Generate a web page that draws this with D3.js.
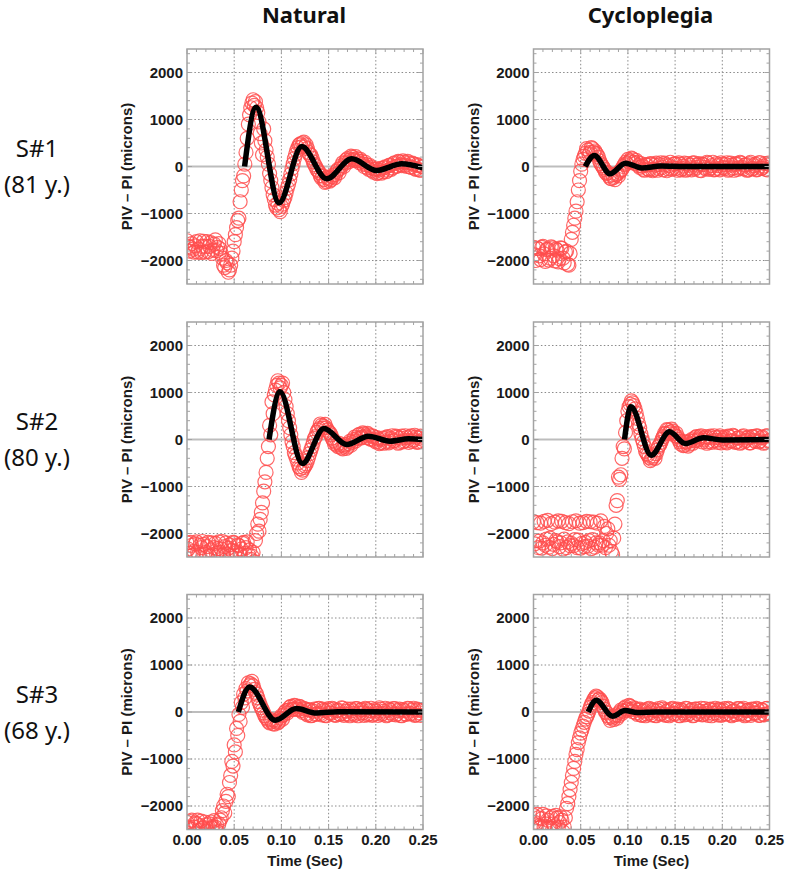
<!DOCTYPE html>
<html>
<head>
<meta charset="utf-8">
<style>
  body { margin: 0; background: #fff; }
  svg { display: block; }
  .tick-label { font-family: 'Liberation Sans', Arial, sans-serif; font-weight: bold; font-size: 15px; fill: #1a1a1a; }
  .axis-title { font-family: 'Liberation Sans', Arial, sans-serif; font-weight: bold; font-size: 15px; fill: #1a1a1a; }
  .col-title { font-family: 'Noto Sans', sans-serif; font-weight: bold; font-size: 22px; fill: #111; }
  .row-label { font-family: 'Noto Sans', sans-serif; font-size: 24px; fill: #111; }
</style>
</head>
<body>
<div id="chart"></div>
<script src="https://cdn.jsdelivr.net/npm/d3@7"></script>
<script>
  // samples are 1.25 ms apart, first one at t = 0
  const sampleStep = 0.00125

  const columnTitles = ['Natural', 'Cycloplegia']
  const rowLabels = [['S#1', '(81 y.)'], ['S#2', '(80 y.)'], ['S#3', '(68 y.)']]

  const xTicks = [0, 0.05, 0.10, 0.15, 0.20, 0.25]
  const xTickLabels = ['0.00', '0.05', '0.10', '0.15', '0.20', '0.25']
  const yTicks = [2000, 1000, 0, -1000, -2000]
  const yTickLabels = ['2000', '1000', '0', '\u22121000', '\u22122000']

  // measured PIV - PI (microns), one value per sample
  const s1Natural = [
    -1580, -1700, -1800, -1720, -1640, -1760, -1820, -1690, -1600, -1820, -1760, -1580, -1830, -1700, -1590, -1820,
    -1700, -1600, -1810, -1700, -1620, -1850, -1780, -1650, -1560, -1790, -1720, -1640, -1750, -1850, -1950, -2100,
    -2150, -2000, -2050, -2250, -2200, -2100, -1950, -1800, -1600, -1450, -1300, -1150, -1100, -750, -500, -300,
    -200, 50, 300, 600, 900, 1100, 1250, 1350, 1420, 1300, 1380, 1250, 1150, 950, 700, 500, 250, 800,
    550, 350, 200, 50, -150, -300, -450, -600, -700, -820, -880, -780, -920, -960, -850, -800, -720, -660,
    -560, -460, -380, -280, -160, -40, 60, 170, 260, 340, 400, 460, 480, 420, 500, 520, 420, 460,
    380, 300, 250, 240, 180, 100, 40, 0, -60, -90, -130, -200, -250, -200, -280, -340, -320, -230,
    -260, -310, -280, -220, -180, -240, -170, -100, -60, -130, -40, 20, 80, 0, 70, 140, 170, 100,
    140, 220, 200, 150, 130, 210, 170, 120, 80, 150, 110, 50, 0, 90, 40, -30, -60, 20, -20, -90,
    -120, -60, -50, -150, -130, -70, -40, -140, -110, -30, -10, -110, -80, 20, 30, -60, -30, 60, 80, 0,
    10, 110, 100, 40, 20, 120, 90, 30, 0, 110, 80, -10, -20, 70, 50, -40, -60, 40, 20, -70, -80, 0, -10
  ]
  const s1Cyclo = [
    -1720, -1880, -2000, -1740, -1750, -1900, -1980, -1720, -1700, -1860, -2020, -1770, -1760, -1990, -1950, -1710,
    -1730, -1900, -2010, -1760, -1780, -2030, -1960, -1730, -1740, -1950, -2050, -1820, -1800, -2080, -2100, -1850,
    -1550, -1400, -1250, -1100, -950, -750, -500, -300, -100, 50, 150, 220, 280, 380, 350, 260,
    300, 400, 380, 300, 330, 280, 250, 200, 120, 60, 20, -20, -60, -120, -150, -130, -200, -250,
    -260, -180, -230, -280, -180, -150, -200, -120, -80, -60, 0, 40, 90, 60, 150, 100, 120, 180,
    160, 90, 60, 130, 90, 20, -20, 60, 10, -60, -80, 40, 30, -50, -70, 60, 50, -90,
    -60, 30, 70, -80, -40, 40, 80, -20, -70, 70, 40, -90, -50, 20, 90, -60, -30, 50, 60, -40,
    -80, 80, 50, -70, -40, 10, 70, -80, -60, 60, 30, -30, -70, 70, 80, -50, -20, 30, 60, -80,
    -90, 50, 40, -20, -50, 90, 70, -60, -30, 20, 90, -70, -60, 60, 20, -40, -70, 80, 50, -20,
    -40, 40, 80, -80, -60, 70, 30, -30, -80, 50, 60, -60, -30, 90, 70, -20, -50, 30, 40, -80,
    -70, 60, 90, -50, -40, 20, 50, -70, -60, 80, 80, -40, -30, 10, 60, -60, -70, 70, 40
  ]
  const s2Natural = [
    -2200, -2330, -2420, -2190, -2250, -2460, -2380, -2220, -2180, -2400, -2450, -2250, -2300, -2170, -2230, -2440,
    -2400, -2280, -2190, -2480, -2350, -2200, -2460, -2300, -2210, -2420, -2320, -2180, -2400, -2330, -2170, -2450,
    -2280, -2200, -2440, -2310, -2240, -2470, -2360, -2190, -2200, -2380, -2410, -2240, -2260, -2450, -2330, -2210,
    -2190, -2420, -2300, -2180, -2450, -2350, -2550, -2480, -2400, -2600, -2150, -2000, -1800, -1950, -1700, -1550,
    -1350, -1100, -900, -700, -400, -150, 300, 100, 800, 550, 950, 1050, 1150, 1250, 1200, 1100,
    1150, 1200, 1000, 850, 700, 550, 400, 250, 100, -50, -150, -280, -350, -420, -500, -580,
    -620, -700, -650, -600, -560, -520, -450, -380, -300, -220, -150, -60, 20, 60, 150, 200,
    230, 330, 300, 240, 280, 320, 250, 200, 160, 140, 100, 30, -20, -90, -60, -120, -150, -80,
    -120, -180, -200, -140, -110, -190, -160, -90, -40, -120, -60, 0, 50, -30, 20, 90, 110, 30,
    50, 140, 120, 70, 40, 130, 100, 20, 0, 80, 60, -20, -50, 40, 10, -90, -70, 0, 30, -80,
    -50, 40, 60, -70, -40, 20, 80, -30, -20, 70, 50, -80, -60, 30, 70, -50, -30, 80, 40, -20,
    -60, 60, 80, -40, -10, 90, 50, -60, -50, 30, 70, -40, 0
  ]
  const s2Cyclo = [
    -1750, -2220, -2150, -1770, -2300, -2160, -1780, -2310, -2200, -1740, -2250, -2120, -1720, -2290, -2100, -1790,
    -2320, -2230, -1760, -2150, -2180, -1730, -2280, -2200, -1740, -2330, -2120, -1770, -2300, -2180, -1790, -2260,
    -2210, -1750, -2260, -2130, -1730, -2300, -2140, -1780, -2310, -2210, -1770, -2280, -2190, -1740, -2270, -2150,
    -1750, -2320, -2130, -1760, -2290, -2200, -1780, -2250, -2200, -1730, -2250, -2150, -1850, -2300, -2000, -1900,
    -2250, -2150, -2380, -2450, -2100, -1800, -1400, -1300, -800, -850, -750, -400, -150, -200, 150, 400,
    600, 700, 750, 820, 780, 720, 650, 560, 450, 330, 250, 120, 20, -60, -150, -250,
    -300, -330, -380, -450, -420, -380, -350, -400, -300, -220, -150, -110, -60, 10, 60, 130,
    120, 210, 200, 140, 160, 220, 180, 120, 80, 130, 60, 0, -50, -100, -40, -130, -120, -60,
    -50, -140, -100, -30, 0, -80, -30, 40, 60, -20, 10, 60, 80, -50, -10, 30, 60, -80,
    -50, 40, 70, -60, -30, 80, 40, -20, -60, 50, 80, -70, -20, 20, 50, -50, -70, 70, 60, -30,
    -30, 90, 70, -60, -50, 30, 40, -80, -60, 60, 80, -40, -20, 30, 50, -70, -70, 60, 60, -20,
    -40, 80, 70, -50, -30, 40, 50, -80, -60, 70, 80, -30, -20
  ]
  const s3Natural = [
    -2350, -2450, -2480, -2330, -2300, -2500, -2450, -2360, -2380, -2300, -2520, -2420, -2320, -2480, -2460, -2340,
    -2400, -2530, -2500, -2380, -2340, -2470, -2440, -2310, -2450, -2400, -2550, -2380, -2300, -2250, -2100, -2000,
    -2150, -1900, -1750, -1800, -1500, -1350, -1050, -1150, -700, -850, -350, -500, -50, -200, 200, 100,
    380, 300, 500, 450, 620, 560, 600, 650, 560, 480, 420, 380, 300, 220, 150, 90,
    40, -20, -80, -120, -150, -200, -230, -160, -200, -250, -260, -200, -170, -230, -200, -130,
    -80, -150, -60, 0, 30, -20, 40, 100, 120, 50, 60, 140, 130, 70, 50, 120,
    110, 30, -10, 80, 60, -30, -60, 50, 40, -80, -70, 20, 60, -50, -40, 70, 80, -30,
    -60, 60, 30, -70, -80, 40, 70, -20, -30, 80, 60, -60, -70, 30, 40, -40, -50, 90, 80, -70,
    -40, 20, 60, -50, -80, 60, 30, -30, -60, 70, 70, -80, -30, 40, 50, -20, -70, 80, 60, -60,
    -40, 30, 80, -70, -50, 50, 20, -30, -70, 90, 60, -50, -30, 20, 80, -80, -60, 60, 40, -20,
    -50, 70, 70, -60, -40, 30, 60, -70, -80, 50, 30, -40, -50, 80, 70, -30, -40, 40, 80, -70,
    -60, 60, 40, -20, -70, 30, 50
  ]
  const s3Cyclo = [
    -2200, -2350, -2400, -2180, -2250, -2420, -2450, -2270, -2180, -2440, -2380, -2210, -2300, -2470, -2460, -2250,
    -2220, -2380, -2420, -2200, -2260, -2450, -2350, -2230, -2300, -2550, -2450, -2250, -2050, -1950, -1800, -1650,
    -1500, -1350, -1200, -1050, -900, -800, -650, -550, -450, -380, -300, -220, -150, -100, -50, 20,
    100, 160, 200, 260, 300, 340, 320, 260, 280, 240, 200, 120, 60, 0, -20, -80,
    -120, -180, -100, -130, -160, -90, -60, -130, -80, -10, 40, -30, 20, 80, 110, 40,
    60, 140, 120, 50, 10, 90, 70, -20, -50, 40, 60, -60, -70, 20, 40, -80, -40, 60,
    80, -20, -60, 50, 30, -70, -80, 30, 70, -40, -30, 90, 60, -50, -70, 20, 40, -80,
    -50, 60, 80, -30, -40, 40, 60, -70, -80, 50, 30, -20, -60, 80, 70, -50, -30, 30,
    50, -80, -70, 60, 60, -40, -40, 20, 80, -60, -50, 70, 20, -30, -70, 50, 60, -80,
    -30, 40, 80, -20, -60, 60, 40, -70, -50, 30, 70, -40, -40, 80, 60, -60, -80, 20,
    30, -50, -50, 70, 70, -30, -40, 50, 80, -80, -60, 30, 40, -40, -70, 60, 50, -20,
    -30, 80, 60, -70, -70, 40, 40, -50, -60, 70, 80, -40, -20
  ]

  // fitted curves, [time (s), PIV - PI (microns)]
  const s1NaturalFit = [[0.061, 0], [0.0731, 1262], [0.0975, -773], [0.1215, 425], [0.148, -262],
    [0.1745, 163], [0.201, -85], [0.2274, 57], [0.25, -30]]
  const s1CycloFit = [[0.0548, 0], [0.0645, 234], [0.0812, -156], [0.0974, 70], [0.1148, -30],
    [0.135, 10], [0.16, 0], [0.25, 0]]
  const s2NaturalFit = [[0.0869, 0], [0.0985, 1017], [0.1222, -513], [0.1451, 235], [0.1692, -107],
    [0.1921, 70], [0.215, -36], [0.235, 15], [0.25, 0]]
  const s2CycloFit = [[0.0964, 0], [0.1032, 697], [0.1247, -335], [0.144, 164], [0.1607, -86],
    [0.18, 35], [0.2, -10], [0.25, 0]]
  const s3NaturalFit = [[0.0544, 0], [0.0664, 530], [0.0936, -176], [0.1158, 72], [0.137, -20],
    [0.16, 5], [0.25, 0]]
  const s3CycloFit = [[0.058, 0], [0.0665, 250], [0.0837, -90], [0.097, 30], [0.11, -10],
    [0.13, 0], [0.25, 0]]

  const panels = [
    {row: 0, col: 0, values: s1Natural, fit: s1NaturalFit},
    {row: 0, col: 1, values: s1Cyclo, fit: s1CycloFit},
    {row: 1, col: 0, values: s2Natural, fit: s2NaturalFit},
    {row: 1, col: 1, values: s2Cyclo, fit: s2CycloFit},
    {row: 2, col: 0, values: s3Natural, fit: s3NaturalFit},
    {row: 2, col: 1, values: s3Cyclo, fit: s3CycloFit}
  ]

  const width = 787, height = 874
  const colX = [187, 533.5]
  const rowY = [49, 322, 594.5]
  const pw = 236, ph = 235

  const x = d3.scaleLinear().domain([0, 0.25]).range([0, pw])
  const y = d3.scaleLinear().domain([-2500, 2500]).range([ph, 0])

  const svg = d3.select('#chart')
    .append('svg')
    .attr('width', width)
    .attr('height', height)

  // column titles
  svg.selectAll('.col-title')
    .data(columnTitles)
    .enter()
    .append('text')
    .attr('class', 'col-title')
    .attr('x', (d, i) => colX[i] + pw / 2 - 1)
    .attr('y', 23)
    .attr('text-anchor', 'middle')
    .text(d => d)

  // row labels
  rowLabels.forEach((lines, r) => {
    svg.append('text')
      .attr('class', 'row-label')
      .attr('text-anchor', 'middle')
      .selectAll('tspan')
      .data(lines)
      .enter()
      .append('tspan')
      .attr('x', 37)
      .attr('y', (d, i) => rowY[r] + 108 + i * 36)
      .text(d => d)
  })

  const line = d3.line()
    .x(d => x(d[0]))
    .y(d => y(d[1]))
    .curve(d3.curveMonotoneX)

  const xMinor = d3.range(0, 26).map(i => i / 100)
  const yMinor = d3.range(-12, 13).map(i => i * 200)

  panels.forEach((p, k) => {
    const g = svg.append('g')
      .attr('transform', `translate(${colX[p.col]}, ${rowY[p.row]})`)

    // dotted grid
    g.selectAll('.vgrid')
      .data(xTicks.slice(1, -1))
      .enter()
      .append('line')
      .attr('x1', d => x(d)).attr('x2', d => x(d))
      .attr('y1', 0).attr('y2', ph)
      .attr('stroke', '#8a8a8a')
      .attr('stroke-dasharray', '1.5,2.2')
    g.selectAll('.hgrid')
      .data(yTicks.filter(d => d !== 0))
      .enter()
      .append('line')
      .attr('x1', 0).attr('x2', pw)
      .attr('y1', d => y(d)).attr('y2', d => y(d))
      .attr('stroke', '#8a8a8a')
      .attr('stroke-dasharray', '1.5,2.2')

    // zero axis
    g.append('line')
      .attr('x1', 0).attr('x2', pw)
      .attr('y1', y(0)).attr('y2', y(0))
      .attr('stroke', '#bdbdbd')
      .attr('stroke-width', 1.8)

    g.append('clipPath')
      .attr('id', 'clip' + k)
      .append('rect')
      .attr('width', pw)
      .attr('height', ph)

    const plot = g.append('g').attr('clip-path', `url(#clip${k})`)

    plot.selectAll('circle')
      .data(p.values)
      .enter()
      .append('circle')
      .attr('cx', (d, i) => x(i * sampleStep))
      .attr('cy', d => y(d))
      .attr('r', 7)
      .attr('fill', 'none')
      .attr('stroke', '#ff4d4d')
      .attr('stroke-opacity', 0.85)
      .attr('stroke-width', 1.2)

    plot.append('path')
      .datum(p.fit)
      .attr('d', line)
      .attr('fill', 'none')
      .attr('stroke', '#000')
      .attr('stroke-width', 5.5)
      .attr('stroke-linejoin', 'round')

    // frame with inward ticks on all sides
    g.append('rect')
      .attr('width', pw)
      .attr('height', ph)
      .attr('fill', 'none')
      .attr('stroke', '#a3a3a3')
      .attr('stroke-width', 1.5)

    xMinor.forEach(t => {
      const len = Math.round(t * 100) % 5 === 0 ? 5 : 3
      g.append('line').attr('x1', x(t)).attr('x2', x(t)).attr('y1', ph).attr('y2', ph - len)
        .attr('stroke', '#a3a3a3')
      g.append('line').attr('x1', x(t)).attr('x2', x(t)).attr('y1', 0).attr('y2', len)
        .attr('stroke', '#a3a3a3')
    })
    yMinor.forEach(v => {
      const len = v % 1000 === 0 ? 5 : 3
      g.append('line').attr('x1', 0).attr('x2', len).attr('y1', y(v)).attr('y2', y(v))
        .attr('stroke', '#a3a3a3')
      g.append('line').attr('x1', pw).attr('x2', pw - len).attr('y1', y(v)).attr('y2', y(v))
        .attr('stroke', '#a3a3a3')
    })

    // y tick labels
    g.selectAll('.ylab')
      .data(yTicks)
      .enter()
      .append('text')
      .attr('class', 'tick-label')
      .attr('x', -4)
      .attr('y', d => y(d))
      .attr('dy', '0.36em')
      .attr('text-anchor', 'end')
      .text((d, i) => yTickLabels[i])

    // y axis title
    g.append('text')
      .attr('class', 'axis-title')
      .attr('transform', `translate(-55, ${ph / 2}) rotate(-90)`)
      .attr('text-anchor', 'middle')
      .text('PIV \u2013 PI (microns)')

    // x labels only on the bottom row
    if (p.row === 2) {
      g.selectAll('.xlab')
        .data(xTicks)
        .enter()
        .append('text')
        .attr('class', 'tick-label')
        .attr('x', d => x(d))
        .attr('y', ph + 15)
        .attr('text-anchor', 'middle')
        .text((d, i) => xTickLabels[i])

      g.append('text')
        .attr('class', 'axis-title')
        .attr('x', pw / 2)
        .attr('y', ph + 36)
        .attr('text-anchor', 'middle')
        .text('Time (Sec)')
    }
  })
</script>
</body>
</html>
